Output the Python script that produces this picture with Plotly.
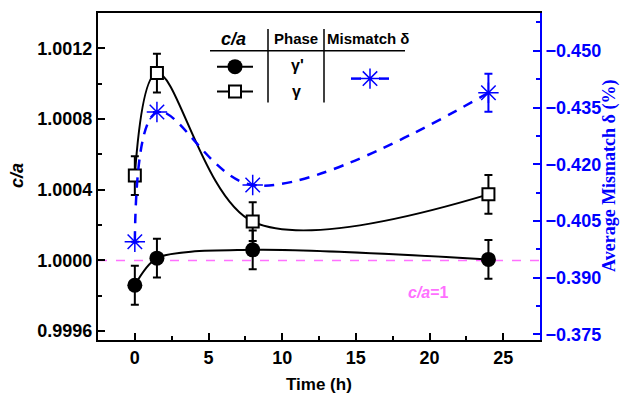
import plotly.graph_objects as go

# ---- data ----
time_h = [0, 1.5, 8, 24]
ca_gamma_prime = [0.99986, 1.000013, 1.00006, 1.000006]   # filled circles
ca_gamma = [1.00048, 1.00106, 1.00022, 1.000374]          # open squares
ca_err = [0.00011, 0.00011, 0.00011, 0.00011]
mismatch = [-0.3995, -0.4338, -0.4145, -0.4389]           # stars (right axis)
mismatch_err = [None, None, None, 0.005]

x_ticks = [0, 5, 10, 15, 20, 25]
y_ticks = [0.9996, 1.0000, 1.0004, 1.0008, 1.0012]
y2_ticks = [-0.450, -0.435, -0.420, -0.405, -0.390, -0.375]

FONT = "Liberation Sans, Arial, sans-serif"
SERIF = "Liberation Serif, Times New Roman, serif"
BLUE = "#0000ff"
PINK = "#ff70ff"

# plot area in pixels
L, R, T, B = 98, 540, 11, 340


def px(xp, yp):
    return (xp - L) / (R - L), (B - yp) / (B - T)


fig = go.Figure()

# reference line c/a = 1
fig.add_trace(go.Scatter(x=[-2.5, 27.5], y=[1.0, 1.0], mode="lines",
                         line=dict(color=PINK, width=1.5, dash="dash"),
                         hoverinfo="skip", showlegend=False))

# smooth curves
fig.add_trace(go.Scatter(x=time_h, y=ca_gamma, mode="lines",
                         line=dict(color="black", width=2, shape="spline", smoothing=1.0),
                         showlegend=False))
fig.add_trace(go.Scatter(x=time_h, y=ca_gamma_prime, mode="lines",
                         line=dict(color="black", width=2, shape="spline", smoothing=0.8),
                         showlegend=False))
fig.add_trace(go.Scatter(x=time_h, y=mismatch, mode="lines", yaxis="y2",
                         line=dict(color=BLUE, width=2.5, shape="spline", smoothing=1.0,
                                   dash="10px,8px"),
                         showlegend=False))

# markers with error bars
fig.add_trace(go.Scatter(x=time_h, y=ca_gamma, mode="markers",
                         marker=dict(symbol="square", size=12, color="white",
                                     line=dict(color="black", width=2)),
                         error_y=dict(type="data", array=ca_err, color="black",
                                      thickness=2, width=4),
                         showlegend=False))
fig.add_trace(go.Scatter(x=time_h, y=ca_gamma_prime, mode="markers",
                         marker=dict(symbol="circle", size=15, color="black"),
                         error_y=dict(type="data", array=ca_err, color="black",
                                      thickness=2, width=4),
                         showlegend=False))
fig.add_trace(go.Scatter(x=time_h, y=mismatch, mode="markers", yaxis="y2",
                         marker=dict(symbol="asterisk-open", size=17, color=BLUE,
                                     line=dict(color=BLUE, width=1.5)),
                         error_y=dict(type="data", array=mismatch_err, color=BLUE,
                                      thickness=2, width=4),
                         showlegend=False))

# ---- table-like legend drawn in a pixel-coordinate overlay ----
PX = dict(xaxis="x3", yaxis="y3", showlegend=False, hoverinfo="skip")
fig.add_trace(go.Scatter(x=[217, 253], y=[65, 65], mode="lines",
                         line=dict(color="black", width=2), **PX))
fig.add_trace(go.Scatter(x=[235], y=[65], mode="markers",
                         marker=dict(symbol="circle", size=15, color="black"), **PX))
fig.add_trace(go.Scatter(x=[217, 253], y=[90, 90], mode="lines",
                         line=dict(color="black", width=2), **PX))
fig.add_trace(go.Scatter(x=[235], y=[90], mode="markers",
                         marker=dict(symbol="square", size=12, color="white",
                                     line=dict(color="black", width=2)), **PX))
fig.add_trace(go.Scatter(x=[351, 361, None, 379, 389], y=[77, 77, None, 77, 77], mode="lines",
                         line=dict(color=BLUE, width=2.5), **PX))
fig.add_trace(go.Scatter(x=[370], y=[77], mode="markers",
                         marker=dict(symbol="asterisk-open", size=17, color=BLUE,
                                     line=dict(color=BLUE, width=1.5)), **PX))

shapes = [
    dict(type="line", xref="x3", yref="y3", x0=210, x1=405, y0=49, y1=49,
         line=dict(color="black", width=1.5)),
    dict(type="line", xref="x3", yref="y3", x0=268, x1=268, y0=27, y1=101,
         line=dict(color="black", width=1.5)),
    dict(type="line", xref="x3", yref="y3", x0=324, x1=324, y0=27, y1=101,
         line=dict(color="black", width=1.5)),
]


def ann(xp, yp, text, size, color="black", family=FONT, angle=0):
    xx, yy = px(xp, yp)
    return dict(x=xx, y=yy, xref="paper", yref="paper", text=text, showarrow=False,
                textangle=angle, xanchor="center", yanchor="middle",
                font=dict(family=family, size=size, color=color, weight="bold"))


annotations = [
    ann(233, 37, "<i>c/a</i>", 18),
    ann(296, 37, "Phase", 15),
    ann(368, 37, "Mismatch δ", 15),
    ann(297, 64, "γ'", 16),
    ann(296, 90, "γ", 16),
    ann(428, 292, "<i>c/a</i>=1", 16, PINK),
    # axis titles
    ann(17, 175, "<i>c/a</i>", 18, angle=-90),
    ann(609, 175, "Average Mismatch δ (%)", 18, BLUE, SERIF, angle=-90),
    ann(319, 385, "Time (h)", 17),
]

tickfont = dict(family=FONT, size=18, color="black", weight="bold")

fig.update_layout(
    width=622, height=398,
    margin=dict(l=L, r=622 - R, t=T, b=398 - B),
    paper_bgcolor="white", plot_bgcolor="white",
    showlegend=False,
    shapes=shapes, annotations=annotations,
    xaxis=dict(range=[-2.5, 27.5], tickvals=x_ticks, ticks="inside", ticklen=7,
               tickwidth=1.5, tickcolor="black", showline=True, linecolor="black",
               linewidth=2, mirror=True, showgrid=False, zeroline=False,
               tickfont=tickfont,
               minor=dict(ticks="inside", ticklen=4, dtick=2.5, tick0=0,
                          tickcolor="black", tickwidth=1.5, showgrid=False)),
    yaxis=dict(range=[0.99955, 1.0014], tickvals=y_ticks, tickformat=".4f",
               ticks="inside", ticklen=7, tickwidth=1.5, tickcolor="black",
               showline=True, linecolor="black", linewidth=2, showgrid=False,
               zeroline=False, tickfont=tickfont,
               minor=dict(ticks="inside", ticklen=4, dtick=0.0002, tick0=1.0,
                          tickcolor="black", tickwidth=1.5, showgrid=False)),
    yaxis2=dict(overlaying="y", side="right", range=[-0.3735, -0.460],
                tickvals=y2_ticks, tickformat=".3f", ticks="inside", ticklen=7,
                tickwidth=1.5, tickcolor=BLUE, showline=True, linecolor=BLUE,
                linewidth=2, showgrid=False, zeroline=False,
                tickfont=dict(family=FONT, size=18, color=BLUE, weight="bold"),
                minor=dict(ticks="inside", ticklen=4, dtick=0.0075, tick0=-0.45,
                           tickcolor=BLUE, tickwidth=1.5, showgrid=False)),
    xaxis3=dict(overlaying="x", range=[L, R], visible=False, fixedrange=True),
    yaxis3=dict(overlaying="y", range=[B, T], visible=False, fixedrange=True),
)

fig.write_html("out.html")
